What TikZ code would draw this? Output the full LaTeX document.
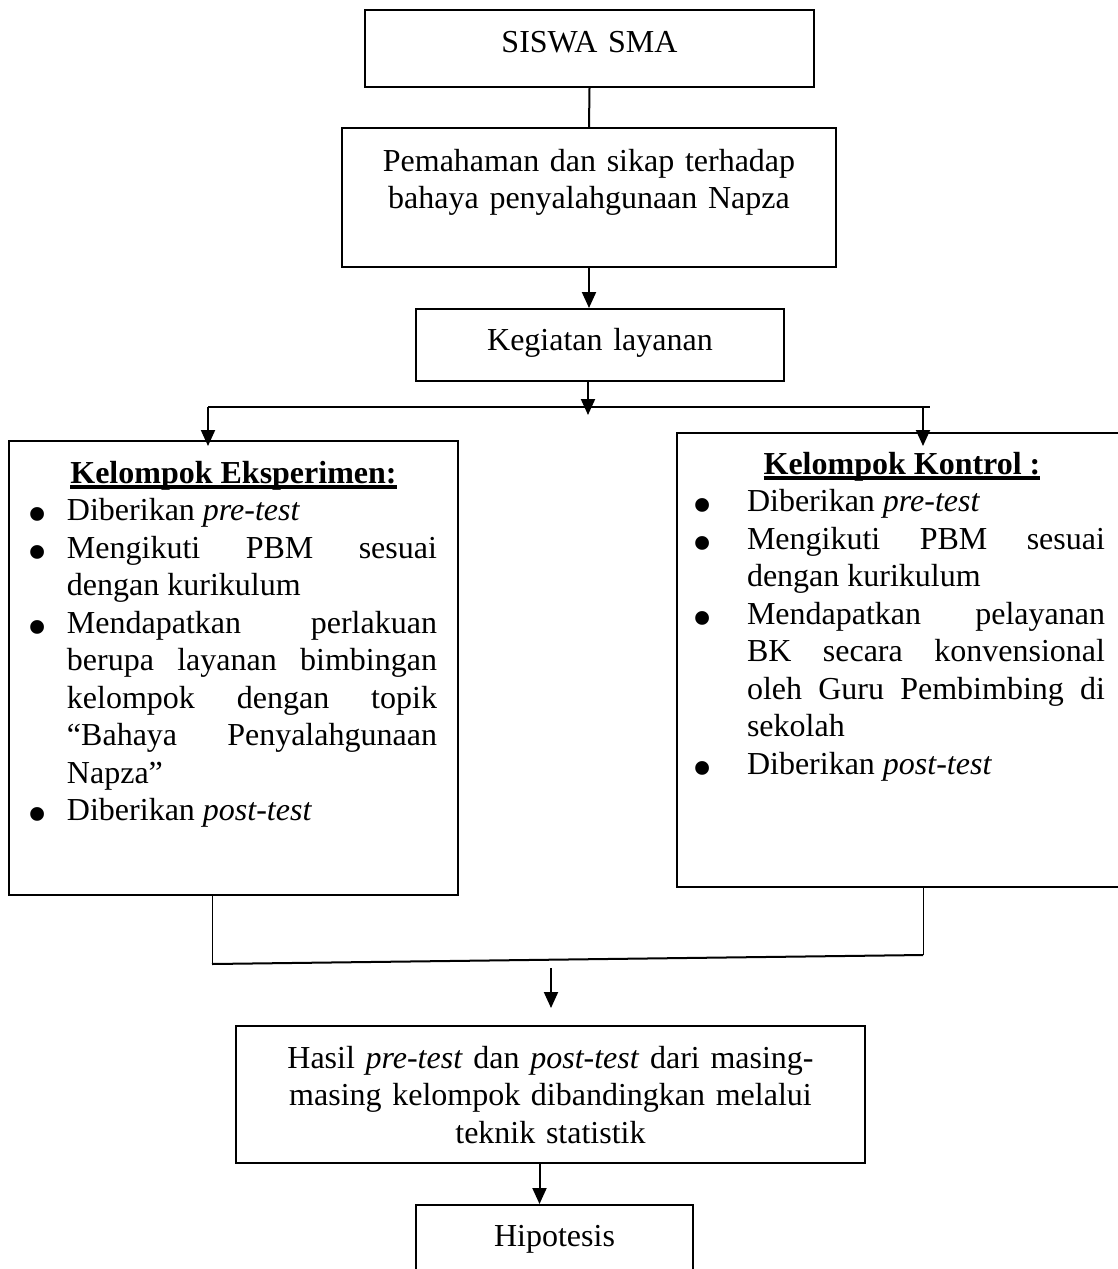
\documentclass[tikz,border=0pt]{standalone}
\usepackage{fontspec}
\setmainfont{Liberation Serif}
\usepackage{graphicx}
\usepackage{enumitem}
\usepackage{tikz}
\usetikzlibrary{arrows.meta}
\usetikzlibrary{calc}
\hyphenpenalty=10000
\exhyphenpenalty=10000
\setlist[itemize]{topsep=0pt, partopsep=0pt, parsep=0pt, itemsep=0pt, labelwidth=21pt,
    label=\raisebox{-13pt}[0pt][0pt]{\scalebox{1.8}{\textbullet}}}
\newcommand{\grouptitle}[1]{{\centering\setbox0=\hbox{\textbf{#1}}%
    \rlap{\rule[-6pt]{\wd0}{4pt}}\box0\par}}
\tikzset{
    box/.style={draw, line width=2pt, inner sep=0pt, anchor=base, align=center,
        font=\fontsize{32}{37.5}\selectfont},
    listbox/.style={box, align=justify},
    link/.style={line width=2pt},
    thinlink/.style={line width=1pt},
    arrow/.style={link, -{Triangle[length=16pt, width=14pt]}}
}

\begin{document}
\begin{tikzpicture}[x=1pt, y=-1pt]
  \useasboundingbox (0,0) rectangle (1118,1269);

  % boxes, placed at their first baseline
  \node[box, text width=449pt, text height=42pt, text depth=35pt] (siswa) at (589.5,52) {SISWA SMA};
  \node[box, text width=494pt, text height=43pt, text depth=96pt] (pemahaman) at (589,171)
      {Pemahaman dan sikap terhadap\\bahaya penyalahgunaan Napza};
  \node[box, text width=368pt, text height=41pt, text depth=31pt] (kegiatan) at (600,350) {Kegiatan layanan};

  \node[listbox, text width=449pt, text height=42pt, text depth=412pt] (eksperimen) at (233.5,483) {%
      \grouptitle{Kelompok Eksperimen:}
      \begin{itemize}[leftmargin=58pt, rightmargin=21pt, labelsep=19.4pt]
        \item Diberikan \textit{pre-test}
        \item Mengikuti PBM sesuai dengan kurikulum
        \item Mendapatkan perlakuan berupa layanan bimbingan kelompok dengan topik “Bahaya Penyalahgunaan Napza”
        \item Diberikan \textit{post-test}
      \end{itemize}};
  \node[listbox, text width=450pt, text height=41pt, text depth=413pt] (kontrol) at (902,474) {%
      \grouptitle{Kelompok Kontrol :}
      \begin{itemize}[leftmargin=70pt, rightmargin=22pt, labelsep=33.9pt]
        \item Diberikan \textit{pre-test}
        \item Mengikuti PBM sesuai dengan kurikulum
        \item Mendapatkan pelayanan\linebreak BK secara konvensional oleh Guru Pembimbing di sekolah
        \item Diberikan \textit{post-test}
      \end{itemize}};

  \node[box, text width=629pt, text height=42pt, text depth=95pt] (hasil) at (550.5,1068)
      {Hasil \textit{pre-test} dan \textit{post-test} dari masing-\\masing kelompok dibandingkan melalui\\teknik statistik};
  \node[box, text width=277pt, text height=41pt, text depth=40pt] (hipotesis) at (554.5,1246) {Hipotesis};

  % junctions
  \coordinate (split-m) at (588,407);
  \coordinate (split-l) at (208,407);
  \coordinate (split-r) at (930,407);
  \coordinate (join-l) at (212,964);
  \coordinate (join-r) at (923,955);
  \coordinate (merge) at (551,968);

  \draw[link] (siswa.south) -- (pemahaman.north);
  \draw[arrow] (pemahaman.south) -- (pemahaman.south |- kegiatan.north);
  \draw[arrow] (kegiatan.south -| split-m) -- ([yshift=-8pt]split-m);
  \draw[link] (split-l) -- (split-r);
  \draw[arrow, shorten >=-6pt] (split-l) -- (split-l |- eksperimen.north);
  \draw[arrow, shorten >=-14pt] (join-r |- split-r) -- (join-r |- kontrol.north);

  \draw[thinlink] (eksperimen.south -| join-l) -- (join-l);
  \draw[thinlink] (kontrol.south -| join-r) -- (join-r);
  \draw[link] (join-l) -- (join-r);
  \draw[arrow, shorten >=17pt] (merge) -- (merge |- hasil.north);
  \draw[arrow] ([xshift=-11pt]hasil.south) -- ([xshift=-11pt]hasil.south |- hipotesis.north);
\end{tikzpicture}
\end{document}
